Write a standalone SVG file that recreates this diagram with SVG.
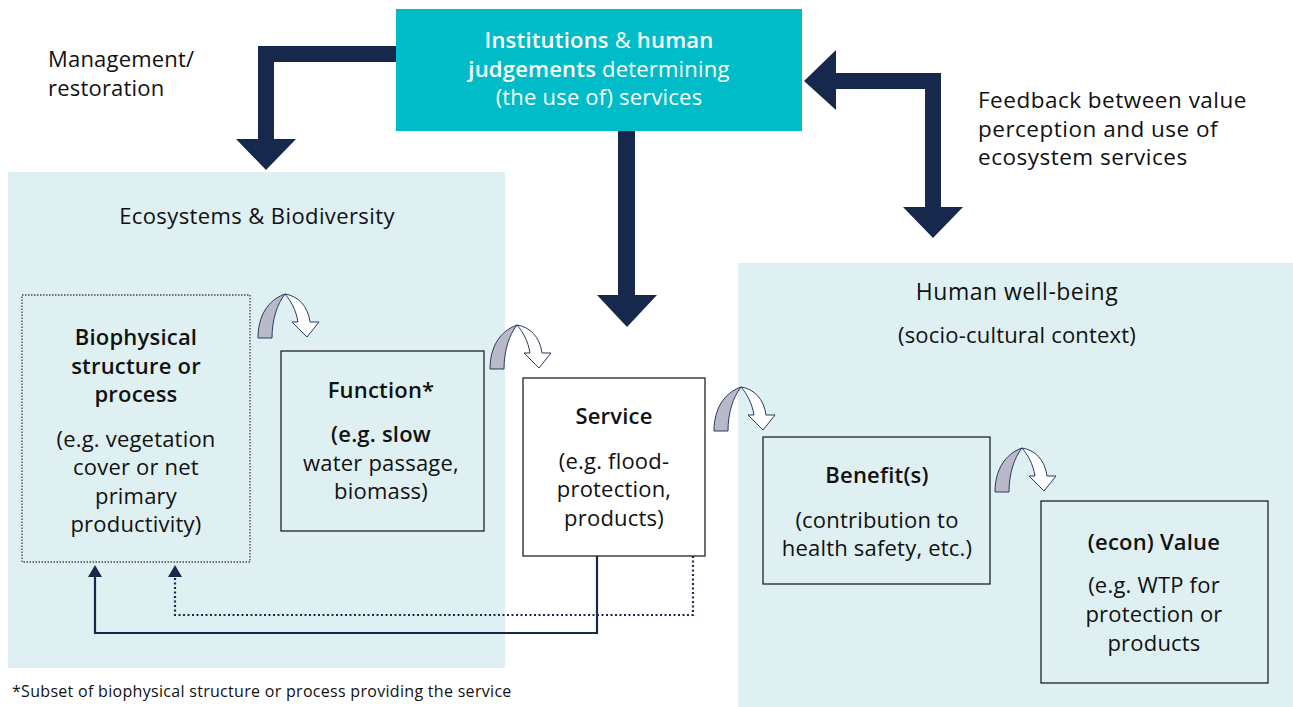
<svg xmlns="http://www.w3.org/2000/svg" xmlns:xlink="http://www.w3.org/1999/xlink" width="1293" height="707" viewBox="0 0 1293 707">
<style>
text{font-family:"Open Sans","Noto Sans","DejaVu Sans",sans-serif;font-size:22px;letter-spacing:0.2px;fill:#111;}
.c{text-anchor:middle;}
.b{font-weight:600;}
.w{fill:#fff;}
.panel{fill:#dff0f2;}
.box{fill:#dff0f2;stroke:#222;stroke-width:1.3;}
.big{fill:#17284d;}
.con{fill:none;stroke:#17284d;stroke-width:2.2;}
.dot{fill:none;stroke:#17284d;stroke-width:2.2;stroke-dasharray:2 2.5;}
.ah{fill:#17284d;}
.fb{font-size:22.5px;letter-spacing:0.5px;}
</style>
<defs>
<g id="curl">
<path d="M0,44 C0,22 10,6 27,0 C19,10 14,26 14,44 Z" fill="#b9b9c9" stroke="#2b3a63" stroke-width="1"/>
<path d="M27,0 C40,2 50,12 52,28 L61,28 L49,43 L34,28 L40,28 C38,16 33,7 27,0 Z" fill="#fff" stroke="#2b3a63" stroke-width="1"/>
</g>
</defs>
<rect width="1293" height="707" fill="#fff"/>

<g id="ecosystems">
<rect class="panel" x="8" y="172" width="497" height="496"/>
<text class="c" x="257" y="224" style="letter-spacing:0.4px">Ecosystems &amp; Biodiversity</text>
</g>
<g id="wellbeing">
<rect class="panel" x="738" y="263" width="555" height="444"/>
<text class="c" x="1017" y="300" style="font-size:23px;letter-spacing:0.5px">Human well-being</text>
<text class="c" x="1017" y="343">(socio-cultural context)</text>
</g>

<g id="institutions">
<rect x="396" y="9" width="406" height="122" fill="#00bcc8"/>
<text class="c w" x="599" y="48"><tspan class="b w">Institutions</tspan> &amp; <tspan class="b w">human</tspan></text>
<text class="c w" x="599" y="77"><tspan class="b w">judgements</tspan> determining</text>
<text class="c w" x="599" y="105">(the use of) services</text>
</g>

<g id="management-label">
<text x="48" y="67">Management/</text>
<text x="48" y="96">restoration</text>
</g>
<g id="feedback-label">
<text class="fb" x="978" y="108">Feedback between value</text>
<text class="fb" x="978" y="137">perception and use of</text>
<text class="fb" x="978" y="165">ecosystem services</text>
</g>

<g id="biophysical">
<rect x="22" y="295" width="228" height="267" fill="none" stroke="#444" stroke-width="1.3" stroke-dasharray="1.5 1.5"/>
<text class="c b" x="136" y="345">Biophysical</text>
<text class="c b" x="136" y="374">structure or</text>
<text class="c b" x="136" y="402">process</text>
<text class="c" x="136" y="447">(e.g. vegetation</text>
<text class="c" x="136" y="475">cover or net</text>
<text class="c" x="136" y="504">primary</text>
<text class="c" x="136" y="532">productivity)</text>
</g>
<g id="function">
<rect class="box" x="281" y="351" width="203" height="180"/>
<text class="c b" x="381" y="398">Function*</text>
<text class="c b" x="381" y="442">(e.g. slow</text>
<text class="c" x="381" y="471">water passage,</text>
<text class="c" x="381" y="499">biomass)</text>
</g>
<g id="service">
<rect x="523" y="378" width="182" height="178" fill="#fff" stroke="#222" stroke-width="1.3"/>
<text class="c b" x="614" y="424">Service</text>
<text class="c" x="614" y="469">(e.g. flood-</text>
<text class="c" x="614" y="497">protection,</text>
<text class="c" x="614" y="526">products)</text>
</g>
<g id="benefits">
<rect class="box" x="763" y="437" width="227" height="147"/>
<text class="c b" x="877" y="483">Benefit(s)</text>
<text class="c" x="877" y="528">(contribution to</text>
<text class="c" x="877" y="556">health safety, etc.)</text>
</g>
<g id="value">
<rect class="box" x="1041" y="501" width="227" height="182"/>
<text class="c b" x="1154" y="550">(econ) Value</text>
<text class="c" x="1154" y="593">(e.g. WTP for</text>
<text class="c" x="1154" y="622">protection or</text>
<text class="c" x="1154" y="651">products</text>
</g>

<g id="connectors">
<polygon class="big" points="396,46 258,46 258,139 236,139 266,170 296,139 274,139 274,62 396,62"/>
<polygon class="big" points="618,131 635,131 635,295 657,295 627,327 597,295 618,295"/>
<polygon class="big" points="804,81 836,50 836,73 941,73 941,207 963,207 933,238 903,207 925,207 925,89 836,89 836,110"/>
<use xlink:href="#curl" x="258" y="294"/>
<use xlink:href="#curl" x="490" y="325"/>
<use xlink:href="#curl" x="714" y="387"/>
<use xlink:href="#curl" x="995" y="448"/>
<polyline class="con" points="597,556 597,633 95,633 95,576"/>
<polygon class="ah" points="88,577 102,577 95,565"/>
<polyline class="dot" points="693,556 693,615 175,615 175,576"/>
<polygon class="ah" points="168,577 182,577 175,565"/>
</g>

<g id="footnote">
<text x="12" y="697" style="font-size:16px;letter-spacing:0.3px">*Subset of biophysical structure or process providing the service</text>
</g>
</svg>
